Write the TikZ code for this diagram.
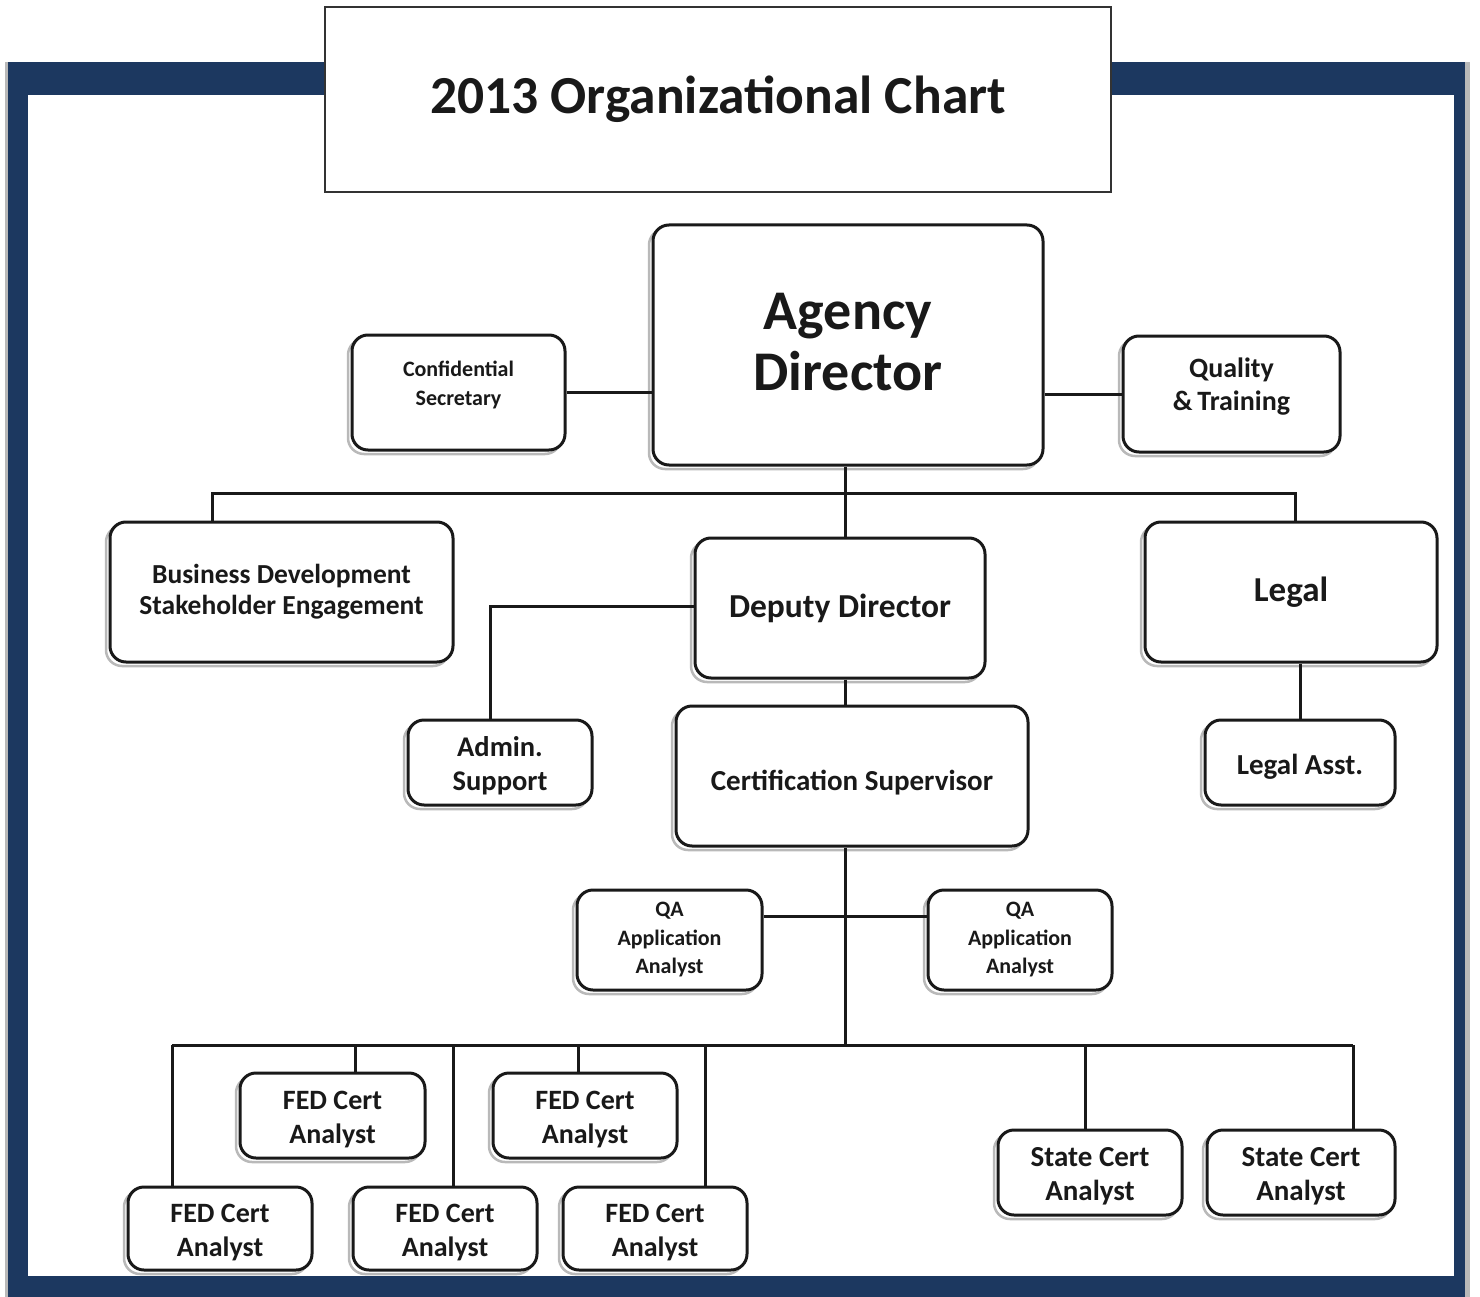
\documentclass[tikz,border=0pt]{standalone}
\usepackage{fontspec}
\setmainfont{Carlito}
\usetikzlibrary{shadows}
\definecolor{navy}{RGB}{28,56,96}
\definecolor{ink}{RGB}{25,25,25}
\tikzset{
  box/.style={draw=ink, line width=3pt, rounded corners=16pt, fill=white,
    align=center, inner sep=0pt, text=ink,
    general shadow={shadow xshift=-4pt, shadow yshift=-4pt, draw=gray!55, line width=2.5pt, fill=none}},
  fz/.style 2 args={font=\bfseries\fontsize{#1}{#2}\selectfont},
  link/.style={draw=ink, line width=3pt},
}
\newcommand{\lowr}[1]{\rule{0pt}{#1}}
\begin{document}
\begin{tikzpicture}[x=1pt,y=-1pt]
\useasboundingbox (0,0) rectangle (1480,1297);
% frame
\fill[gray!55] (5,62) rectangle (1470,1297);
\fill[navy] (8,62) rectangle (1465,1297);
\fill[white] (28,95) rectangle (1454,1276);
% title
\node[draw=gray!40!black, line width=1.5pt, fill=white, minimum width=786pt, minimum height=185pt,
  fz={53.5}{60}, text=ink] (title) at (718,99.5) {2013 Organizational Chart};

% nodes
\node[box, minimum width=390pt, minimum height=240pt, fz={56}{61}] (agency) at (848,345)
  {Agency\\Director\\[-55pt]\mbox{}};
\node[box, minimum width=213pt, minimum height=115pt, fz={22}{29}] (conf) at (458.5,392.5)
  {Confidential\\Secretary\\[-11pt]\mbox{}};
\node[box, minimum width=217pt, minimum height=116pt, fz={28}{33}] (qt) at (1231.5,394)
  {Quality\\\&\,Training\\[-14pt]\mbox{}};
\node[box, minimum width=343pt, minimum height=140pt, fz={27.5}{31}] (bd) at (281.5,592)
  {Business Development\\Stakeholder Engagement};
\node[box, minimum width=290pt, minimum height=140pt, fz={33.5}{38}] (deputy) at (840,608)
  {Deputy Director};
\node[box, minimum width=292pt, minimum height=140pt, fz={35}{38}] (legal) at (1291,592)
  {Legal};
\node[box, minimum width=184pt, minimum height=85pt, fz={28.5}{34}] (admin) at (500,762.5)
  {\lowr{27pt}Admin.\\Support};
\node[box, minimum width=352pt, minimum height=140pt, fz={29}{34}] (certsup) at (852,776)
  {\lowr{34pt}Certification Supervisor};
\node[box, minimum width=190pt, minimum height=85pt, fz={29}{34}] (legalasst) at (1300,762.5)
  {\lowr{28pt}Legal Asst.};
\node[box, minimum width=185pt, minimum height=100pt, fz={22}{28.5}] (qaL) at (669.5,940)
  {QA\\Application\\Analyst};
\node[box, minimum width=184pt, minimum height=100pt, fz={22}{28.5}] (qaR) at (1020,940)
  {QA\\Application\\Analyst};
\node[box, minimum width=185pt, minimum height=85pt, fz={28}{34}] (fedT1) at (332.5,1115.5)
  {\lowr{26pt}FED Cert\\Analyst};
\node[box, minimum width=184pt, minimum height=85pt, fz={28}{34}] (fedT2) at (585,1115.5)
  {\lowr{26pt}FED Cert\\Analyst};
\node[box, minimum width=184pt, minimum height=83pt, fz={28}{34}] (fedB1) at (220,1228.5)
  {\lowr{27pt}FED Cert\\Analyst};
\node[box, minimum width=184pt, minimum height=83pt, fz={28}{34}] (fedB2) at (445,1228.5)
  {\lowr{27pt}FED Cert\\Analyst};
\node[box, minimum width=184pt, minimum height=83pt, fz={28}{34}] (fedB3) at (655,1228.5)
  {\lowr{27pt}FED Cert\\Analyst};
\node[box, minimum width=184pt, minimum height=85pt, fz={29}{34}] (st1) at (1090,1172.5)
  {\lowr{27pt}State Cert\\Analyst};
\node[box, minimum width=188pt, minimum height=85pt, fz={29}{34}] (st2) at (1301,1172.5)
  {\lowr{27pt}State Cert\\Analyst};

% coordinates
\coordinate (busA) at (845,493);
\coordinate (bl) at (212,493);
\coordinate (br) at (1295,493);
\coordinate (a1) at (490,606);
\coordinate (la) at (1300,700);
\coordinate (q) at (845,916);
\coordinate (busB) at (845,1045);
\coordinate (c1) at (172,1045);
\coordinate (c2) at (355,1045);
\coordinate (c3) at (453,1045);
\coordinate (c4) at (578,1045);
\coordinate (c5) at (705,1045);
\coordinate (c6) at (1085,1045);
\coordinate (c7) at (1353,1045);

% connectors
\draw[link] (conf.east) -- (agency.west |- conf.east);
\draw[link] (agency.east |- qt.west) -- (qt.west);
\draw[link] (busA |- agency.south) -- (busA |- deputy.north);
\draw[link] (bl |- bd.north) -- (bl) -- (br) -- (br |- legal.north);
\draw[link] (deputy.west |- a1) -- (a1) -- (a1 |- admin.north);
\draw[link] (busA |- deputy.south) -- (busA |- certsup.north);
\draw[link] (la |- legal.south) -- (la |- legalasst.north);
\draw[link] (busB |- certsup.south) -- (busB);
\draw[link] (qaL.east |- q) -- (qaR.west |- q);
\draw[link] (c1) -- (c7);
\draw[link] (c1) -- (c1 |- fedB1.north);
\draw[link] (c2) -- (c2 |- fedT1.north);
\draw[link] (c3) -- (c3 |- fedB2.north);
\draw[link] (c4) -- (c4 |- fedT2.north);
\draw[link] (c5) -- (c5 |- fedB3.north);
\draw[link] (c6) -- (c6 |- st1.north);
\draw[link] (c7) -- (c7 |- st2.north);
\end{tikzpicture}
\end{document}
